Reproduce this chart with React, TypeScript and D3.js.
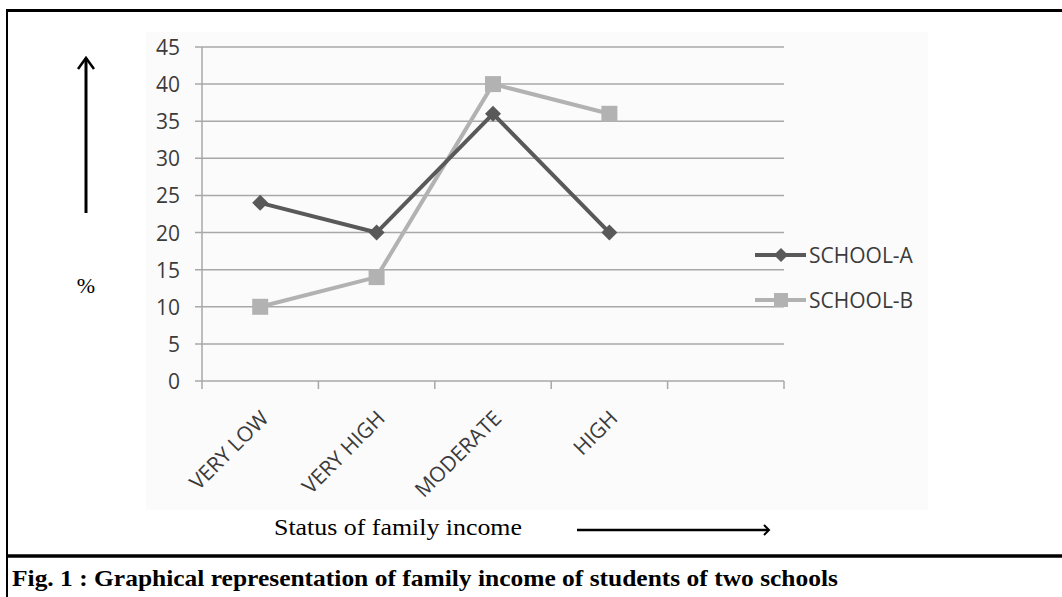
import React from 'react';
import * as d3 from 'd3';

// values (percent of students)
const categories = ['VERY LOW', 'VERY HIGH', 'MODERATE', 'HIGH'];
const schoolA = [24, 20, 36, 20];
const schoolB = [10, 14, 40, 36];
const yTicks = [0, 5, 10, 15, 20, 25, 30, 35, 40, 45];
const seriesNames = ['SCHOOL-A', 'SCHOOL-B'];

const W = 1062;
const H = 597;
const font = "'Open Sans', sans-serif";
const serif = "'Liberation Serif', 'Times New Roman', serif";
const colorA = '#595959';
const colorB = '#b2b2b2';
const gridColor = '#a8a8a8';
const textColor = '#3b3b3b';

const App: React.FC = () => {
    // Excel leaves an empty fifth slot at the end of the category axis
    const slots = [...categories, ''];
    const x = d3.scaleBand<string>().domain(slots).range([202, 784]);
    const y = d3.scaleLinear().domain([0, 45]).range([381, 47]);
    const cx = (c: string) => (x(c) ?? 0) + x.bandwidth() / 2;

    const line = d3
        .line<number>()
        .x((_, i) => cx(categories[i]))
        .y((v) => y(v));

    const diamond = (px: number, py: number, r: number) =>
        `M${px},${py - r}L${px + r},${py}L${px},${py + r}L${px - r},${py}Z`;

    const edges = d3.range(slots.length + 1).map((i) => 202 + i * x.step());

    return (
        <svg width={W} height={H} style={{ position: 'absolute', left: 0, top: 0 }}>
            <rect x={0} y={0} width={W} height={H} fill="#ffffff" />

            {/* frame */}
            <line x1={7} x2={W} y1={10.5} y2={10.5} stroke="#000" strokeWidth={3} />
            <line x1={7} x2={7} y1={9} y2={H} stroke="#000" strokeWidth={2} />
            <line x1={7} x2={W} y1={556} y2={556} stroke="#000" strokeWidth={3.5} />

            {/* faint chart area */}
            <rect x={146} y={32} width={782} height={478} fill="#fbfbfb" />

            {/* gridlines */}
            {yTicks.map((t) => (
                <g key={t}>
                    <line
                        x1={195}
                        x2={784}
                        y1={y(t)}
                        y2={y(t)}
                        stroke={gridColor}
                        strokeWidth={1.5}
                    />
                    <text
                        x={180}
                        y={y(t)}
                        textAnchor="end"
                        dominantBaseline="central"
                        fontFamily={font}
                        fontSize={21}
                        fill={textColor}
                    >
                        {t}
                    </text>
                </g>
            ))}

            {/* axes */}
            <line x1={202} x2={202} y1={y(45)} y2={y(0)} stroke={gridColor} strokeWidth={1.5} />
            {edges.map((ex, i) => (
                <line key={i} x1={ex} x2={ex} y1={y(0)} y2={y(0) + 8} stroke={gridColor} strokeWidth={1.5} />
            ))}

            {categories.map((c) => (
                <text
                    key={c}
                    transform={`translate(${cx(c) + 4},${414}) rotate(-45)`}
                    textAnchor="end"
                    dominantBaseline="central"
                    fontFamily={font}
                    fontSize={21}
                    fill={textColor}
                >
                    {c}
                </text>
            ))}

            {/* series */}
            <path d={line(schoolB) ?? ''} fill="none" stroke={colorB} strokeWidth={4} />
            <path d={line(schoolA) ?? ''} fill="none" stroke={colorA} strokeWidth={4} />
            {schoolB.map((v, i) => (
                <rect
                    key={i}
                    x={cx(categories[i]) - 8}
                    y={y(v) - 8}
                    width={16}
                    height={16}
                    fill={colorB}
                />
            ))}
            {schoolA.map((v, i) => (
                <path key={i} d={diamond(cx(categories[i]), y(v), 8)} fill={colorA} />
            ))}

            {/* legend */}
            {seriesNames.map((name, i) => {
                const ly = 255 + i * 45;
                const col = i === 0 ? colorA : colorB;
                return (
                    <g key={name}>
                        <line x1={755} x2={806} y1={ly} y2={ly} stroke={col} strokeWidth={4} />
                        {i === 0 ? (
                            <path d={diamond(781, ly, 7)} fill={col} />
                        ) : (
                            <rect x={774} y={ly - 7} width={14} height={14} fill={col} />
                        )}
                        <text
                            x={809}
                            y={ly}
                            dominantBaseline="central"
                            fontFamily={font}
                            fontSize={21}
                            fill={textColor}
                        >
                            {name}
                        </text>
                    </g>
                );
            })}

            {/* y axis title with arrow */}
            <line x1={86} x2={86} y1={58} y2={213} stroke="#000" strokeWidth={3} />
            <path d="M78,69L86,58L94,69" fill="none" stroke="#000" strokeWidth={2.5} />
            <text
                x={86}
                y={285}
                textAnchor="middle"
                dominantBaseline="central"
                fontFamily={serif}
                fontSize={22}
                fill="#000"
            >
                %
            </text>

            {/* x axis title with arrow */}
            <text
                x={274}
                y={535}
                fontFamily={serif}
                fontSize={23}
                textLength={248}
                lengthAdjust="spacingAndGlyphs"
                fill="#000"
            >
                Status of family income
            </text>
            <line x1={577} x2={768} y1={530} y2={530} stroke="#000" strokeWidth={2.5} />
            <path d="M764,525L769,530L764,535" fill="none" stroke="#000" strokeWidth={2} />

            {/* caption */}
            <text
                x={12}
                y={586}
                fontFamily={serif}
                fontWeight="bold"
                fontSize={24}
                textLength={826}
                lengthAdjust="spacingAndGlyphs"
                fill="#000"
            >
                Fig. 1 : Graphical representation of family income of students of two schools
            </text>
        </svg>
    );
};

export default App;
